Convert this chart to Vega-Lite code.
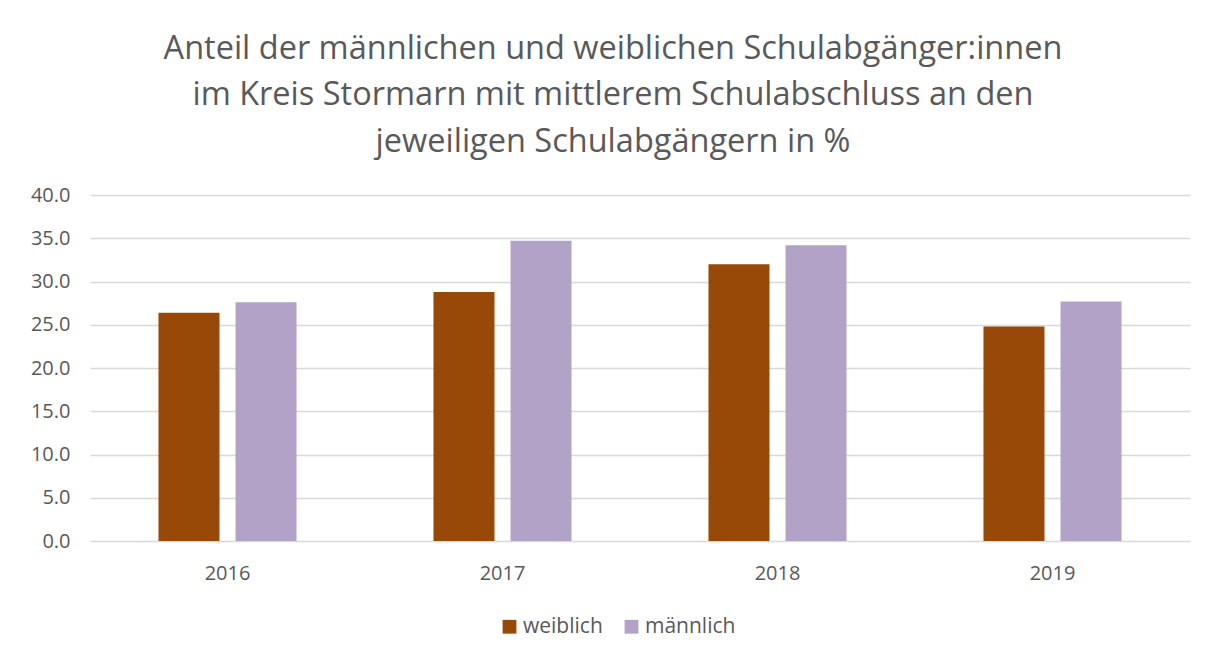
{
  "$schema": "https://vega.github.io/schema/vega-lite/v6.json",
  "width": 1100,
  "height": 346,
  "autosize": {"type": "none"},
  "padding": {"left": 90, "top": 195, "right": 24, "bottom": 117},
  "background": "white",
  "title": {
    "text": ["Anteil der männlichen und weiblichen Schulabgänger:innen", "im Kreis Stormarn mit mittlerem Schulabschluss an den", "jeweiligen Schulabgängern in %"],
    "font": "Open Sans",
    "fontSize": 32.5,
    "fontWeight": "normal",
    "color": "#595959",
    "lineHeight": 46.5,
    "anchor": "middle",
    "dx": -27,
    "offset": 27
  },
  "data": {
    "values": [
      {"jahr": "2016", "geschlecht": "weiblich", "wert": 26.4},
      {"jahr": "2016", "geschlecht": "männlich", "wert": 27.6},
      {"jahr": "2017", "geschlecht": "weiblich", "wert": 28.8},
      {"jahr": "2017", "geschlecht": "männlich", "wert": 34.7},
      {"jahr": "2018", "geschlecht": "weiblich", "wert": 32.0},
      {"jahr": "2018", "geschlecht": "männlich", "wert": 34.2},
      {"jahr": "2019", "geschlecht": "weiblich", "wert": 24.8},
      {"jahr": "2019", "geschlecht": "männlich", "wert": 27.7}
    ]
  },
  "mark": {"type": "bar"},
  "encoding": {
    "x": {
      "field": "jahr", "type": "nominal",
      "scale": {"paddingInner": 0.498, "paddingOuter": 0.249},
      "axis": {"title": null, "labelAngle": 0, "ticks": false, "domain": false, "labelFont": "Open Sans", "labelFontSize": 20, "labelColor": "#595959", "labelPadding": 22}
    },
    "xOffset": {
      "field": "geschlecht", "type": "nominal",
      "sort": ["weiblich", "männlich"],
      "scale": {"paddingInner": 0.208, "paddingOuter": 0}
    },
    "y": {
      "field": "wert", "type": "quantitative",
      "scale": {"domain": [0, 40], "nice": false},
      "axis": {"title": null, "values": [0, 5, 10, 15, 20, 25, 30, 35, 40], "format": ".1f", "ticks": false, "domain": false, "labelFont": "Open Sans", "labelFontSize": 20, "labelColor": "#595959", "labelPadding": 20, "gridColor": "#D9D9D9", "gridWidth": 1.3}
    },
    "color": {
      "field": "geschlecht", "type": "nominal",
      "sort": ["weiblich", "männlich"],
      "scale": {"domain": ["weiblich", "männlich"], "range": ["#984807", "#B3A2C7"]},
      "legend": {
        "title": null, "orient": "none", "direction": "horizontal",
        "legendX": 409, "legendY": 421,
        "symbolType": "square", "symbolSize": 190, "symbolStrokeWidth": 0,
        "labelFont": "Open Sans", "labelFontSize": 21, "labelColor": "#595959",
        "columnPadding": 18, "labelOffset": 3
      }
    }
  },
  "config": {"view": {"stroke": null}}
}
